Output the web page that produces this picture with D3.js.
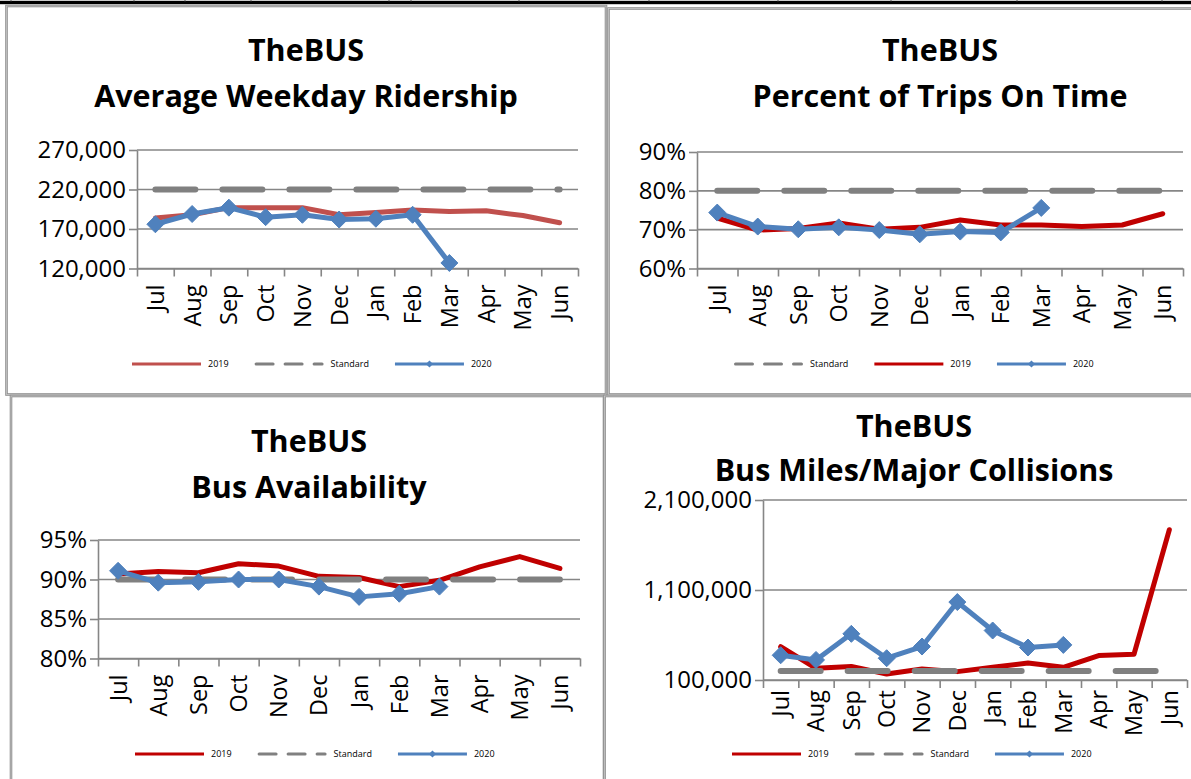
<!DOCTYPE html>
<html><head><meta charset="utf-8">
<script src="https://cdn.jsdelivr.net/npm/d3@7"></script>
<style>body{margin:0;background:#fff;overflow:hidden} svg{display:block}</style>
</head><body>
<svg id="c" width="1191" height="779"></svg>
<script>
const months = ["Jul","Aug","Sep","Oct","Nov","Dec","Jan","Feb","Mar","Apr","May","Jun"];

const ridership2019 = [184000,188000,197000,197000,197000,188000,191000,194000,192000,193000,187000,178000];
const ridership2020 = [176000,189000,197000,185000,188000,182000,183000,188000,127000];
const ridershipStandard = [220000,220000,220000,220000,220000,220000,220000,220000,220000,220000,220000,220000];
const ridershipTicks = [120000,170000,220000,270000];

const onTime2019 = [73.0,69.9,70.3,71.7,70.1,70.6,72.5,71.2,71.2,70.8,71.2,74.1];
const onTime2020 = [74.4,70.8,70.1,70.6,69.9,68.8,69.5,69.3,75.6];
const onTimeStandard = [80,80,80,80,80,80,80,80,80,80,80,80];
const onTimeTicks = [60,70,80,90];

const avail2019 = [90.7,91.0,90.85,92.0,91.7,90.4,90.25,89.1,89.9,91.6,92.9,91.4];
const avail2020 = [91.1,89.6,89.7,90.0,90.0,89.1,87.8,88.2,89.1];
const availStandard = [90,90,90,90,90,90,90,90,90,90,90,90];
const availTicks = [80,85,90,95];

const miles2019 = [470000,230000,250000,167000,223000,193000,241000,290000,241000,371000,386000,1770000];
const miles2020 = [375000,323000,613000,342000,472000,966000,650000,461000,490000];
const milesStandard = [200000,200000,200000,200000,200000,200000,200000,200000,200000,200000,200000,200000];
const milesTicks = [100000,1100000,2100000];

const FONT = "'Open Sans', 'DejaVu Sans', sans-serif";
const GRID = "#868686";
const BLUE = "#4F81BD";
const GREY = "#808080";

const svg = d3.select("#c");

// page decoration: top rule and panel frames
svg.append("rect").attr("x",0).attr("y",0.8).attr("width",1191).attr("height",3.4).attr("fill","#000");
[11,134,185,251,389,411,519,649,778,891,1017,1162].forEach(px=>{
  svg.append("line").attr("x1",px).attr("x2",px).attr("y1",0).attr("y2",1.5).attr("stroke","#555").attr("stroke-width",1);
});
const frames = [
  {x1:6.5,y1:6,x2:606,y2:394.5},
  {x1:608.5,y1:8.5,x2:1196,y2:394.5},
  {x1:11,y1:396,x2:604,y2:785},
  {x1:604.5,y1:396,x2:1196,y2:785}
];
frames.forEach(f=>{
  svg.append("rect").attr("x",f.x1).attr("y",f.y1).attr("width",f.x2-f.x1).attr("height",f.y2-f.y1)
    .attr("fill","none").attr("stroke","#8f8f8f").attr("stroke-width",2.6);
  svg.append("rect").attr("x",f.x1).attr("y",f.y1).attr("width",f.x2-f.x1).attr("height",f.y2-f.y1)
    .attr("fill","none").attr("stroke","#c8c8c8").attr("stroke-width",0.8);
});

function diamond(cx, cy, r){
  return `M${cx},${cy-r}L${cx+r},${cy}L${cx},${cy+r}L${cx-r},${cy}Z`;
}

function drawChart(cfg){
  const g = svg.append("g");
  const x = d3.scaleBand().domain(months).range([cfg.left, cfg.right]);
  const xc = m => x(m) + x.bandwidth()/2;
  const y = d3.scaleLinear().domain(cfg.domain).range([cfg.bottom, cfg.top]);

  // titles
  cfg.titles.forEach((t,i)=>{
    g.append("text").attr("x",cfg.titleX).attr("y",cfg.titleY[i]).attr("text-anchor","middle")
      .attr("font-family",FONT).attr("font-weight","bold").attr("font-size",30.5).attr("fill","#000").text(t);
  });

  // gridlines
  g.append("g").selectAll("line").data(cfg.ticks).join("line")
    .attr("x1",cfg.left).attr("x2",cfg.right)
    .attr("y1",d=>y(d)).attr("y2",d=>y(d))
    .attr("stroke",GRID).attr("stroke-width",1.6);

  // y axis
  const ya = g.append("g").attr("transform",`translate(${cfg.left},0)`)
    .call(d3.axisLeft(y).tickValues(cfg.ticks).tickFormat(cfg.fmt).tickSizeInner(8).tickSizeOuter(0).tickPadding(3));
  ya.select(".domain").attr("stroke",GRID).attr("stroke-width",1.6);
  ya.selectAll(".tick line").attr("stroke",GRID).attr("stroke-width",1.6);
  ya.selectAll(".tick text").attr("font-family",FONT).attr("font-size",24).attr("fill","#000");

  // x axis: boundary ticks
  const xb = d3.scaleLinear().domain([0, months.length]).range([cfg.left, cfg.right]);
  const xa = g.append("g").attr("transform",`translate(0,${cfg.bottom})`)
    .call(d3.axisBottom(xb).tickValues(d3.range(months.length+1)).tickFormat("").tickSizeInner(8).tickSizeOuter(0));
  xa.select(".domain").attr("stroke",GRID).attr("stroke-width",1.6);
  xa.selectAll(".tick line").attr("stroke",GRID).attr("stroke-width",1.6);

  // x axis: month labels (rotated)
  const xl = g.append("g").attr("transform",`translate(0,${cfg.bottom})`)
    .call(d3.axisBottom(x).tickSize(0));
  xl.select(".domain").remove();
  xl.selectAll(".tick text")
    .attr("transform","rotate(-90)")
    .attr("x",-cfg.labelOffset).attr("y",0).attr("dy","0.36em")
    .attr("text-anchor","end")
    .attr("font-family",FONT).attr("font-size",23.5).attr("fill","#000");

  // series
  const line = d3.line().x((d,i)=>xc(months[i])).y(d=>y(d));
  cfg.series.forEach(s=>{
    const p = g.append("path").datum(s.values).attr("d",line).attr("fill","none")
      .attr("stroke",s.color).attr("stroke-linejoin","round");
    if (s.type==="dash"){
      p.attr("stroke-width",6).attr("stroke-dasharray","40,27").attr("stroke-linecap","round");
    } else {
      p.attr("stroke-width",5).attr("stroke-linecap","round");
    }
    if (s.type==="marker"){
      g.append("g").selectAll("path").data(s.values).join("path")
        .attr("d",(d,i)=>diamond(xc(months[i]), y(d), 8.5))
        .attr("fill",s.color).attr("stroke",s.color).attr("stroke-width",1);
    }
  });

  // legend
  let lx = cfg.legendX;
  const ly = cfg.legendY;
  cfg.series.forEach(s=>{
    const lg = g.append("g");
    const len = 69;
    const ln = lg.append("line").attr("x1",lx).attr("x2",lx+len).attr("y1",ly).attr("y2",ly)
      .attr("stroke",s.color).attr("stroke-width",3);
    if (s.type==="dash"){
      ln.attr("x1",lx+1.5).attr("x2",lx+len-1.5).attr("stroke-dasharray","17,12").attr("stroke-linecap","round");
    }
    if (s.type==="marker"){
      lg.append("path").attr("d",diamond(lx+len/2, ly, 3.6)).attr("fill",s.color);
    }
    const t = lg.append("text").attr("x",lx+len+7).attr("y",ly).attr("dy","0.35em")
      .attr("font-family",FONT).attr("font-size",9).attr("fill","#000").text(s.name);
    lx = lx + len + 7 + t.node().getComputedTextLength() + 26;
  });
}

const fmtComma = d3.format(",");
const fmtPct = d => d + "%";

drawChart({
  titles:["TheBUS","Average Weekday Ridership"], titleX:306, titleY:[61,107],
  left:137, right:578, top:150, bottom:268.5, domain:[120000,270000], ticks:ridershipTicks, fmt:fmtComma,
  labelOffset:16,
  series:[
    {name:"2019", type:"solid", color:"#C0504D", values:ridership2019},
    {name:"Standard", type:"dash", color:GREY, values:ridershipStandard},
    {name:"2020", type:"marker", color:BLUE, values:ridership2020}
  ],
  legendX:132, legendY:364
});

drawChart({
  titles:["TheBUS","Percent of Trips On Time"], titleX:940, titleY:[61,107],
  left:697, right:1183, top:152, bottom:268.5, domain:[60,90], ticks:onTimeTicks, fmt:fmtPct,
  labelOffset:16,
  series:[
    {name:"Standard", type:"dash", color:GREY, values:onTimeStandard},
    {name:"2019", type:"solid", color:"#C00000", values:onTime2019},
    {name:"2020", type:"marker", color:BLUE, values:onTime2020}
  ],
  legendX:734, legendY:364
});

drawChart({
  titles:["TheBUS","Bus Availability"], titleX:309, titleY:[452,498],
  left:98, right:580, top:540, bottom:658.5, domain:[80,95], ticks:availTicks, fmt:fmtPct,
  labelOffset:16,
  series:[
    {name:"2019", type:"solid", color:"#C00000", values:avail2019},
    {name:"Standard", type:"dash", color:GREY, values:availStandard},
    {name:"2020", type:"marker", color:BLUE, values:avail2020}
  ],
  legendX:135, legendY:754
});

drawChart({
  titles:["TheBUS","Bus Miles/Major Collisions"], titleX:914, titleY:[437,481],
  left:763, right:1187, top:500, bottom:680, domain:[100000,2100000], ticks:milesTicks, fmt:fmtComma,
  labelOffset:10,
  series:[
    {name:"2019", type:"solid", color:"#C00000", values:miles2019},
    {name:"Standard", type:"dash", color:GREY, values:milesStandard},
    {name:"2020", type:"marker", color:BLUE, values:miles2020}
  ],
  legendX:732, legendY:754
});
</script>
</body></html>
